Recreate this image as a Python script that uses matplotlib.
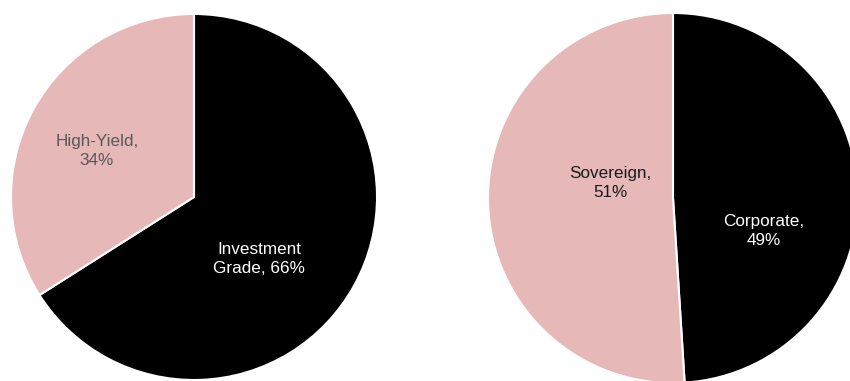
import matplotlib.pyplot as plt

plt.rcParams['font.family'] = ['Liberation Sans', 'DejaVu Sans']

# Credit quality split
quality_labels = ['Investment\nGrade, 66%', 'High-Yield,\n34%']
quality_values = [66, 34]

# Issuer type split
issuer_labels = ['Corporate,\n49%', 'Sovereign,\n51%']
issuer_values = [49, 51]

colors = ['#000000', '#E6B8B7']
text_colors = ['white', '#595959']
issuer_text_colors = ['white', '#1a1a1a']

# label offsets in units of the pie radius
quality_label_pos = [(0.355, -0.34), (-0.53, 0.25)]
issuer_label_pos = [(0.49, -0.18), (-0.34, 0.08)]

W, H = 850, 381
fig = plt.figure(figsize=(W / 100, H / 100), dpi=100)


def draw_pie(box, values, labels, pos, tcolors):
    x0, y0, size = box
    ax = fig.add_axes([x0 / W, (H - y0 - size) / H, size / W, size / H])
    ax.pie(values, colors=colors, startangle=90, counterclock=False, radius=1,
           wedgeprops=dict(edgecolor='white', linewidth=1.5))
    ax.set_xlim(-1, 1)
    ax.set_ylim(-1, 1)
    ax.set_aspect('equal')
    ax.axis('off')
    for lab, (px, py), c in zip(labels, pos, tcolors):
        ax.text(px, py, lab, ha='center', va='center', fontsize=12.3,
                color=c, linespacing=1.35)


# boxes given as (left px, top px, diameter px)
draw_pie((11, 14, 366), quality_values, quality_labels, quality_label_pos, text_colors)
draw_pie((488, 13, 370), issuer_values, issuer_labels, issuer_label_pos, issuer_text_colors)

fig.savefig('out.png', dpi=100)
